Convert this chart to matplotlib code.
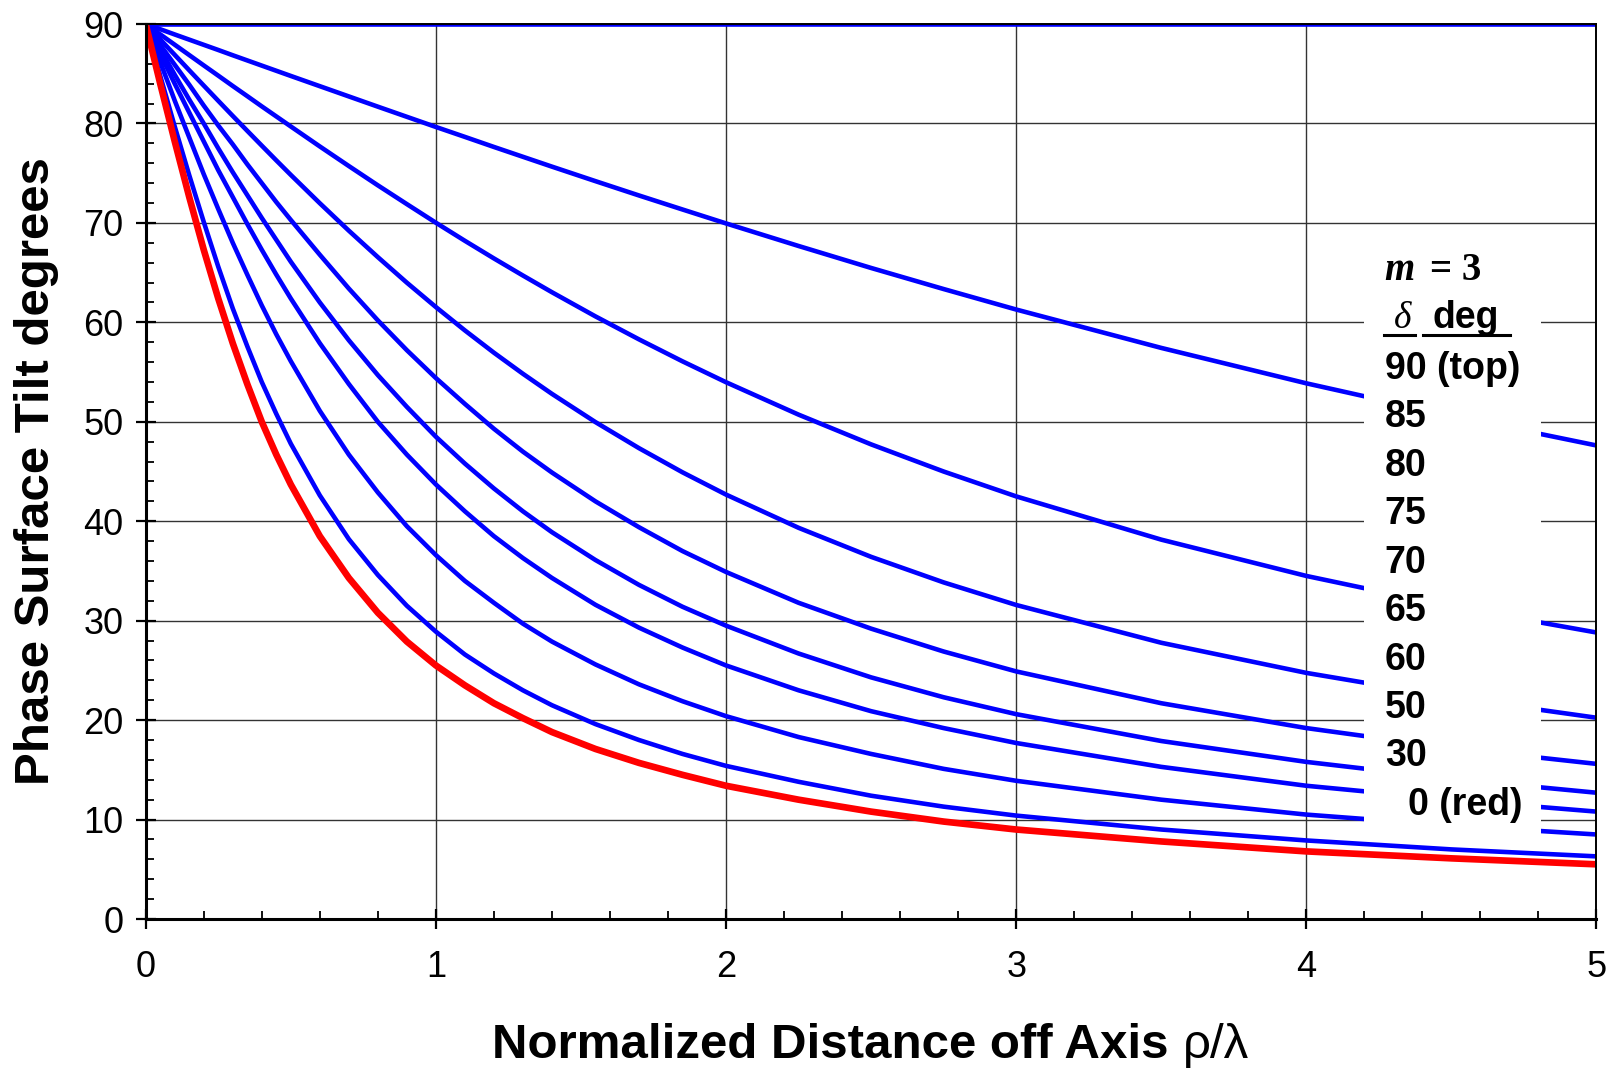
import matplotlib.pyplot as plt
from matplotlib.patches import Rectangle
from matplotlib.ticker import MultipleLocator

plt.rcParams['font.family'] = ['Liberation Sans', 'DejaVu Sans']

# normalized distance off axis rho/lambda
rho = [0, 0.05, 0.1, 0.15, 0.2, 0.25, 0.3, 0.35, 0.4, 0.45, 0.5, 0.6, 0.7, 0.8, 0.9, 1.0,
       1.1, 1.2, 1.3, 1.4, 1.55, 1.7, 1.85, 2.0, 2.25, 2.5, 2.75, 3.0, 3.5, 4.0, 4.5, 5.0]

# phase surface tilt (deg) for each delta (m = 3)
tilt_90 = [90.0] * len(rho)
tilt_85 = [90, 89.48, 88.95, 88.43, 87.91, 87.39, 86.86, 86.34, 85.82, 85.30, 84.78, 83.75, 82.72,
           81.69, 80.67, 79.65, 78.65, 77.64, 76.65, 75.66, 74.20, 72.76, 71.35, 69.95, 67.68,
           65.47, 63.35, 61.29, 57.43, 53.87, 50.61, 47.62]
tilt_80 = [90, 88.96, 87.92, 86.88, 85.84, 84.81, 83.77, 82.75, 81.72, 80.71, 79.70, 77.69, 75.72,
           73.78, 71.89, 70.02, 68.20, 66.43, 64.71, 63.03, 60.60, 58.29, 56.08, 53.98, 50.72,
           47.73, 45.00, 42.50, 38.15, 34.50, 31.42, 28.81]
tilt_75 = [90, 88.45, 86.90, 85.35, 83.81, 82.28, 80.76, 79.26, 77.77, 76.29, 74.83, 71.98, 69.22,
           66.56, 63.99, 61.54, 59.19, 56.95, 54.83, 52.81, 49.97, 47.35, 44.92, 42.68, 39.34,
           36.42, 33.85, 31.58, 27.78, 24.75, 22.29, 20.24]
tilt_70 = [90, 87.9, 85.9, 83.9, 81.8, 79.8, 77.9, 75.9, 74.0, 72.1, 70.3, 66.8, 63.4, 60.2, 57.2, 54.4,
           51.8, 49.3, 47.0, 44.9, 42.0, 39.4, 37.0, 34.9, 31.8, 29.2, 26.9, 24.9, 21.7, 19.2, 17.2, 15.6]
tilt_65 = [90, 87.5, 84.9, 82.4, 80.0, 77.5, 75.1, 72.8, 70.5, 68.3, 66.1, 62.0, 58.2, 54.7, 51.5, 48.5,
           45.8, 43.3, 41.0, 38.9, 36.1, 33.6, 31.4, 29.5, 26.7, 24.3, 22.3, 20.6, 17.9, 15.8, 14.1, 12.7]
tilt_60 = [90, 87.0, 84.0, 81.1, 78.2, 75.3, 72.6, 69.9, 67.3, 64.8, 62.4, 57.9, 53.8, 50.0, 46.7, 43.7,
           41.0, 38.5, 36.3, 34.3, 31.6, 29.3, 27.3, 25.5, 23.0, 20.9, 19.2, 17.7, 15.3, 13.4, 12.0, 10.8]
tilt_50 = [90, 86.2, 82.3, 78.6, 74.9, 71.4, 68.0, 64.8, 61.7, 58.8, 56.1, 51.1, 46.7, 42.9, 39.5, 36.6,
           34.0, 31.8, 29.7, 27.9, 25.6, 23.6, 21.9, 20.4, 18.3, 16.6, 15.1, 13.9, 12.0, 10.5, 9.4, 8.5]
tilt_30 = [90, 84.8, 79.7, 74.8, 70.1, 65.6, 61.4, 57.6, 54.0, 50.8, 47.8, 42.6, 38.2, 34.6, 31.5, 28.9,
           26.6, 24.7, 23.0, 21.5, 19.6, 18.0, 16.6, 15.4, 13.8, 12.4, 11.3, 10.4, 9.0, 7.9, 7.0, 6.3]
tilt_0 = [90, 84.0, 78.2, 72.6, 67.3, 62.4, 57.9, 53.8, 50.0, 46.7, 43.7, 38.5, 34.3, 30.8, 27.9, 25.5,
          23.5, 21.7, 20.2, 18.8, 17.1, 15.7, 14.5, 13.4, 12.0, 10.8, 9.8, 9.0, 7.8, 6.8, 6.1, 5.5]

blue_curves = [tilt_90, tilt_85, tilt_80, tilt_75, tilt_70, tilt_65, tilt_60, tilt_50, tilt_30]
legend_labels = ['90 (top)', '85', '80', '75', '70', '65', '60', '50', '30', '0 (red)']

fig = plt.figure(figsize=(16.19, 10.68), dpi=100)
ax = fig.add_axes([0.09, 0.1395, 0.8961, 0.838])

for t in blue_curves:
    ax.plot(rho, t, color='#0000FF', lw=3.3, zorder=2, solid_joinstyle='round')
ax.plot(rho, tilt_0, color='#FF0000', lw=4.8, zorder=2.2, solid_joinstyle='round')

ax.set_xlim(0, 5)
ax.set_ylim(0, 90)
ax.xaxis.set_major_locator(MultipleLocator(1))
ax.xaxis.set_minor_locator(MultipleLocator(0.2))
ax.yaxis.set_major_locator(MultipleLocator(10))
ax.yaxis.set_minor_locator(MultipleLocator(2))
ax.grid(True, which='major', color='#333333', lw=1.0)
ax.set_axisbelow(True)

ax.tick_params(which='major', direction='inout', length=14, width=1.6,
               labelsize=26, color='black')
ax.tick_params(axis='x', which='major', pad=15)
ax.tick_params(axis='y', which='major', pad=9)
ax.tick_params(which='minor', direction='in', length=5.5, width=1.3)

for s in ['left', 'bottom']:
    ax.spines[s].set_linewidth(2.2)
for s in ['right', 'top']:
    ax.spines[s].set_linewidth(1.4)

ax.set_ylabel('Phase Surface Tilt degrees', fontsize=35.5, fontweight='bold')
ax.yaxis.label.set_va('center')
ax.yaxis.set_label_coords(-0.0755, 0.5)

fig.text(1168 / 1619, 0.00936, 'Normalized Distance off Axis', fontsize=35.5,
         fontweight='bold', ha='right', va='baseline')
fig.text(1183 / 1619, 0.00936, 'ρ/λ', fontsize=35.5, ha='left', va='baseline')

# white text box over the right part of the curves
ax.add_patch(Rectangle((4.2, 8.1), 0.61, 59.9, facecolor='white',
                       edgecolor='none', zorder=3))

serif = ['Liberation Serif', 'DejaVu Serif']
ax.text(4.27, 64.3, 'm', fontsize=28, family=serif, fontweight='bold',
        fontstyle='italic', ha='left', va='baseline', zorder=5)
ax.text(4.427, 64.3, '= 3', fontsize=28, family=serif, fontweight='bold',
        ha='left', va='baseline', zorder=5)
ax.text(4.303, 59.4, 'δ', fontsize=27, family=serif, fontstyle='italic',
        ha='left', va='baseline', zorder=5)
ax.text(4.434, 59.4, 'deg', fontsize=27, fontweight='bold',
        ha='left', va='baseline', zorder=5)
ax.plot([4.267, 4.376], [58.7, 58.7], color='black', lw=2.2, zorder=5)
ax.plot([4.403, 4.703], [58.7, 58.7], color='black', lw=2.2, zorder=5)

for i, lab in enumerate(legend_labels):
    x0 = 4.35 if lab.startswith('0') else 4.27
    ax.text(x0, 54.3 - i * 4.87, lab, fontsize=27, fontweight='bold',
            ha='left', va='baseline', zorder=5)

fig.savefig('out.png', dpi=100)
